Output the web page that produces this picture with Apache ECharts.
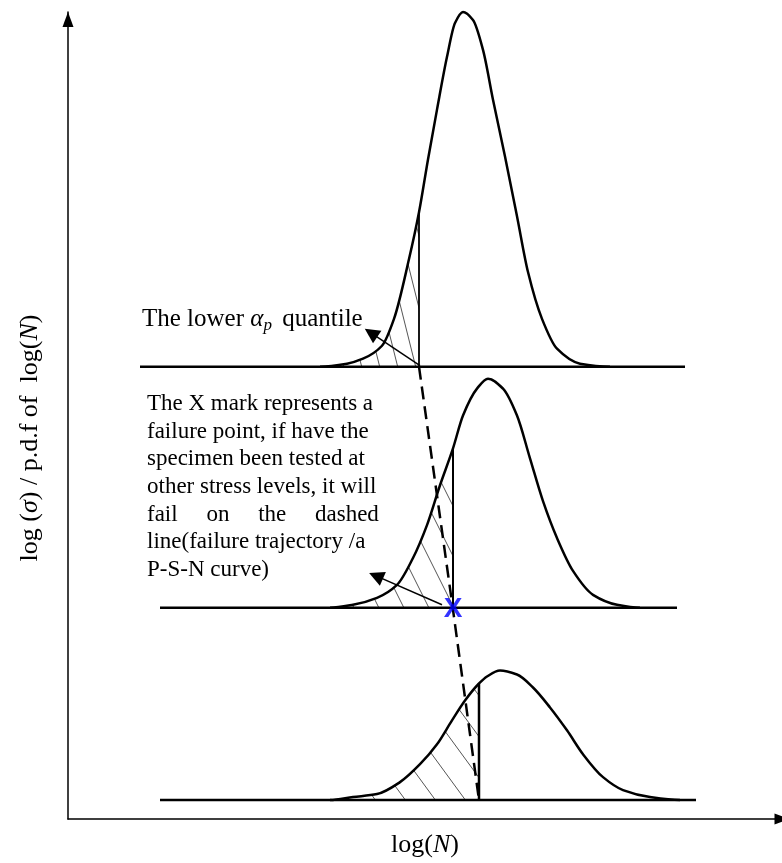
<!DOCTYPE html>
<html><head><meta charset="utf-8">
<script src="https://cdn.jsdelivr.net/npm/echarts@6/dist/echarts.min.js"></script>
<style>html,body{margin:0;padding:0;background:#fff}#chart{width:782px;height:863px}</style>
</head><body><div id="chart"></div>
<script>
// ---- data (chart units: x = log(N) scale, y = log(sigma) level + pdf height) ----
const curveTop = [[252,454],[279,457],[295,462],[314,475],[326,502],[341,562],[351,609],[360,662],[369,712],[379,765],[387,799],[395,810],[405,802],[415,772],[425,722],[437,665],[449,605],[460,549],[474,502],[489,472],[512,457],[542,454]];
const curveMid = [[262,212],[285,215],[309,222],[329,235],[345,262],[359,295],[372,335],[385,372],[395,405],[409,432],[420,442],[435,432],[449,405],[462,362],[475,319],[489,282],[505,249],[525,225],[549,215],[572,212]];
const curveLow = [[262,19],[285,22],[309,25],[332,37],[352,55],[369,75],[384,99],[397,119],[411,136],[419,143],[432,149],[449,145],[465,132],[482,112],[499,89],[515,65],[535,42],[555,29],[582,22],[612,19]];
const baselineTop = [[72,454],[617,454]];
const baselineMid = [[92,212],[609,212]];
const baselineLow = [[92,19],[628,19]];
const quantileTop = [[351,454],[351,609]];
const quantileMid = [[385,212],[385,372]];
const quantileLow = [[411,19],[411,136]];
const trajectory = [[351,454],[385,210],[411,19]];
const failurePoint = [[385,210]];
const arrowQuantile = [[352,455],[303,488]];
const arrowNote = [[374,215],[308,244]];
const xTitle = 'log({i|N})';
const yTitle = 'log ({i|σ}) / p.d.f of  log({i|N})';
const quantileLabel = 'The lower {a|α}{s|p} quantile';
const noteLines = [
  'The X mark represents a',
  'failure point, if have the',
  'specimen been tested at',
  'other stress levels, it will',
  '{j|fail} {j|on} {j|the} dashed',
  'line(failure trajectory /a',
  'P-S-N curve)'
];

const SERIF = '"Liberation Serif", "Times New Roman", serif';

function hatch(S, k) {
  const w = S, h = Math.round(S / k);
  const c = document.createElement('canvas'); c.width = w; c.height = h;
  const g = c.getContext('2d'); g.strokeStyle = '#555'; g.lineWidth = 1;
  for (const dx of [-w, 0, w]) { g.beginPath(); g.moveTo(dx, 0); g.lineTo(dx + w, h); g.stroke(); }
  return c;
}
const patterns = [hatch(18, 0.25), hatch(25, 0.5), hatch(30, 0.73)];
const curves = [[curveTop, quantileTop], [curveMid, quantileMid], [curveLow, quantileLow]];

// smooth (monotone cubic) path through the read points, mapped with the axes' scales
function curveElements(api, curve, q, pattern) {
  const P = curve.map(p => api.coord(p));
  const n = P.length, d = [], s = [], t = new Array(n);
  for (let i = 0; i < n - 1; i++) { d[i] = P[i+1][0] - P[i][0]; s[i] = (P[i+1][1] - P[i][1]) / d[i]; }
  t[0] = 0; t[n-1] = 0;
  for (let i = 1; i < n - 1; i++) {
    t[i] = s[i-1] * s[i] <= 0 ? 0 : 3 * (d[i-1] + d[i]) / ((2*d[i] + d[i-1]) / s[i-1] + (d[i] + 2*d[i-1]) / s[i]);
  }
  const seg = i => { const h = d[i];
    return ' C' + (P[i][0] + h/3) + ',' + (P[i][1] + t[i]*h/3) + ' ' + (P[i+1][0] - h/3) + ',' + (P[i+1][1] - t[i+1]*h/3) + ' ' + P[i+1][0] + ',' + P[i+1][1]; };
  let full = 'M' + P[0][0] + ',' + P[0][1];
  for (let i = 0; i < n - 1; i++) full += seg(i);
  const k = curve.findIndex(p => p[0] === q[0][0]);
  const base = api.coord(q[0]);
  let area = 'M' + P[0][0] + ',' + base[1] + ' L' + P[0][0] + ',' + P[0][1];
  for (let i = 0; i < k; i++) area += seg(i);
  area += ' L' + base[0] + ',' + base[1] + ' Z';
  return [
    {type:'path', shape:{pathData:area}, style:{fill:{image:pattern, repeat:'repeat'}, stroke:null}, z2:1},
    {type:'path', shape:{pathData:full}, style:{fill:null, stroke:'#000', lineWidth:2.5, lineJoin:'round'}, z2:2}
  ];
}

function line(data, extra) {
  return Object.assign({type:'line', data, symbol:'none', silent:true, clip:false,
    lineStyle:{color:'#000', width:2.5}, z:3}, extra || {});
}

const chart = echarts.init(document.getElementById('chart'), null, {renderer:'canvas'});
chart.setOption({
  animation:false,
  backgroundColor:'#fff',
  grid:{left:68, right:0, top:12, bottom:41},
  xAxis:{type:'value', min:0, max:714,
    axisLine:{show:true, lineStyle:{color:'#000', width:1.5}, symbol:['none','triangle'], symbolSize:[11,15], symbolOffset:[0,0]},
    axisTick:{show:false}, axisLabel:{show:false}, splitLine:{show:false},
    name:xTitle, nameLocation:'middle', nameGap:13,
    nameTextStyle:{color:'#000', fontFamily:SERIF, fontSize:26,
      rich:{i:{fontStyle:'italic', fontFamily:SERIF, fontSize:26, color:'#000'}}}},
  yAxis:{type:'value', min:0, max:810,
    axisLine:{show:true, lineStyle:{color:'#000', width:1.5}, symbol:['none','triangle'], symbolSize:[11,15], symbolOffset:[0,-7.5]},
    axisTick:{show:false}, axisLabel:{show:false}, splitLine:{show:false}},
  graphic:[
    {type:'text', x:30, y:438, rotation:Math.PI/2, silent:true,
      style:{text:yTitle, fill:'#000', font:'26px ' + SERIF, align:'center', verticalAlign:'middle',
        rich:{i:{fontStyle:'italic', fontFamily:SERIF, fontSize:26, fill:'#000'}}}},
    {type:'text', x:142, y:319, silent:true,
      style:{text:quantileLabel, fill:'#000', fontFamily:SERIF, fontSize:25, align:'left', verticalAlign:'middle',
        rich:{a:{fontStyle:'italic', fontFamily:SERIF, fontSize:25, fill:'#000'},
              s:{fontStyle:'italic', fontFamily:SERIF, fontSize:17, fill:'#000', padding:[13,4,0,0]}}}},
    {type:'text', x:147, y:390, silent:true,
      style:{text:noteLines.join('\n'), fill:'#000', fontFamily:SERIF, fontSize:23, lineHeight:27.7, align:'left', verticalAlign:'top',
        rich:{j:{fontFamily:SERIF, fontSize:23, fill:'#000', lineHeight:27.7, padding:[0,23,0,0]}}}}
  ],
  series:[
    {type:'custom', coordinateSystem:'cartesian2d', data:[[0, 0]], silent:true, clip:false, z:2,
      renderItem:(params, api) => ({type:'group',
        children: curves.flatMap((c, i) => curveElements(api, c[0], c[1], patterns[i]))})},
    line(baselineTop), line(baselineMid), line(baselineLow),
    line(quantileTop, {lineStyle:{color:'#000', width:1.8}}),
    line(quantileMid, {lineStyle:{color:'#000', width:2}}),
    line(quantileLow, {lineStyle:{color:'#000', width:2.5}}),
    line(trajectory, {lineStyle:{color:'#000', width:2.5, type:[13,7]}, z:4}),
    {type:'lines', coordinateSystem:'cartesian2d', silent:true, z:5,
      data:[{coords:arrowQuantile},{coords:arrowNote}],
      symbol:['none','triangle'], symbolSize:[10,15],
      lineStyle:{color:'#000', width:1.5, opacity:1, curveness:0}},
    {type:'scatter', data:failurePoint, symbol:'circle', symbolSize:1, silent:true, z:6,
      itemStyle:{color:'rgba(0,0,0,0)'},
      label:{show:true, position:'inside', formatter:'X', color:'#0000ff', fontSize:28, fontWeight:'bold',
        fontFamily:'"Liberation Sans", Arial, sans-serif'}}
  ]
});
</script></body></html>
